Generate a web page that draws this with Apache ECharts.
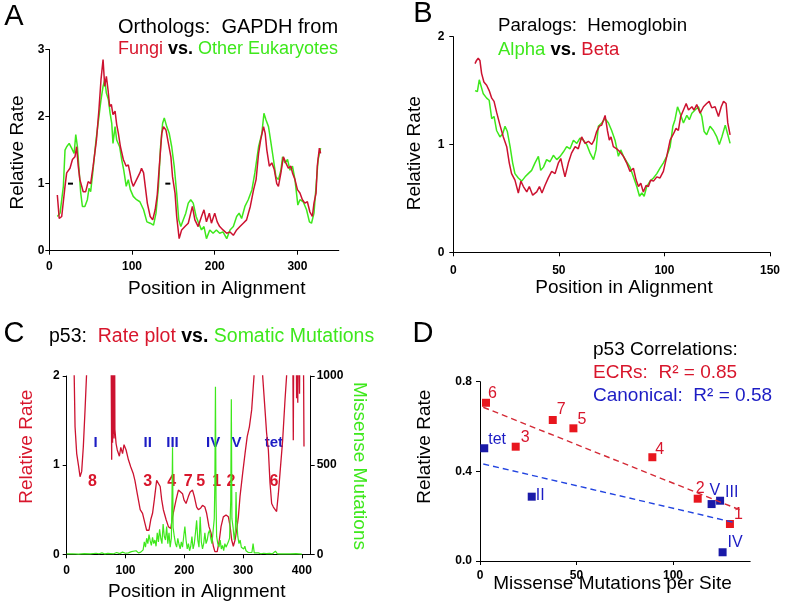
<!DOCTYPE html>
<html><head><meta charset="utf-8">
<script src="https://cdn.jsdelivr.net/npm/echarts@6/dist/echarts.min.js"></script>
<style>html,body{margin:0;padding:0;background:#fff}#c{width:785px;height:607px}</style>
</head><body><div id="c"></div>
<script>
// ---------- Panel A: GAPDH orthologs (position, relative rate) ----------
const aFungi = [[9.7,0.83],[12,0.48],[15,0.51],[19,0.96],[21,1.16],[25,1.23],[28,1.36],[31,1.4],[33,1.55],[35,1.26],[37,1.06],[41,0.88],[44,0.88],[47,1.03],[50,1.0],[53,1.26],[57,1.65],[60,2.1],[62.5,2.55],[65,2.85],[67,2.45],[69,2.6],[71,2.4],[73,2.15],[75,2.18],[77,2.03],[79.5,2.08],[81.5,1.88],[83.5,1.75],[86,1.55],[89.5,1.36],[93,1.26],[95.5,1.28],[97.5,1.16],[99.5,1.03],[101.5,0.96],[105.5,1.06],[109.5,1.16],[111.5,1.23],[114,1.16],[116,0.96],[118.5,0.71],[122,0.51],[125,0.46],[128,0.61],[130.5,0.83],[133,1.26],[136,1.75],[138,1.85],[141,1.8],[144,1.6],[147,1.4],[149,1.1],[152,0.86],[154,0.51],[157,0.18],[160,0.31],[164,0.36],[168,0.41],[171,0.56],[173,0.66],[176,0.46],[180,0.36],[184,0.51],[187,0.61],[190,0.43],[193.5,0.56],[196,0.41],[200,0.56],[203,0.43],[206,0.36],[210,0.31],[214.5,0.26],[218.5,0.28],[222.5,0.23],[226.5,0.31],[230.5,0.36],[234.5,0.41],[238.5,0.46],[243,0.66],[247,0.91],[250,1.06],[253,1.45],[255.5,1.65],[259,1.85],[261,1.75],[263,1.5],[266,1.26],[269,1.31],[272,1.21],[275,1.0],[277,0.96],[280,1.16],[283,1.4],[286,1.31],[289,1.23],[292,1.26],[294,1.16],[297,1.06],[300,0.91],[303,0.86],[306,0.76],[309,0.71],[312,0.73],[315,0.58],[318,0.51],[320,0.71],[322.5,0.86],[324,1.26],[326.5,1.53],[328,1.45]];
const aOther = [[9.7,0.51],[13,0.56],[17,0.96],[19,1.5],[21,1.55],[24,1.6],[27,1.53],[30,1.45],[32,1.73],[34,1.55],[36,1.2],[38,0.86],[40,0.66],[43,0.66],[46,0.76],[48,0.93],[50,0.88],[52.5,1.16],[56.5,1.65],[60,2.0],[62.5,2.25],[65,2.45],[67,2.55],[69,2.35],[71.5,2.25],[73.5,2.05],[75.5,1.9],[77,1.6],[79.5,1.85],[81.5,1.65],[85,1.55],[87.5,1.36],[90,1.2],[93,0.96],[95.5,1.06],[98,0.91],[101.5,0.81],[105.5,0.76],[109.5,0.73],[114,0.61],[118,0.43],[122,0.41],[126,0.38],[129,0.56],[132,0.96],[134.5,1.55],[137,1.9],[139,1.98],[142,1.85],[145,1.75],[148,1.55],[151,1.26],[154,0.86],[156.5,0.46],[159,0.36],[162,0.46],[165,0.56],[168,0.71],[171,0.76],[174,0.71],[177.5,0.51],[180,0.43],[184,0.31],[187,0.36],[190,0.18],[194,0.31],[198,0.26],[202,0.31],[206,0.26],[210,0.28],[214.5,0.18],[218.5,0.31],[222.5,0.36],[226.5,0.51],[229.5,0.56],[232.5,0.48],[236.5,0.66],[240.5,0.76],[245,0.91],[248.5,1.16],[253,1.55],[257,1.75],[259.5,2.05],[262,1.95],[265,1.85],[267.5,1.65],[271,1.36],[274,1.1],[277,1.06],[280,1.2],[282,1.4],[285,1.31],[288,1.36],[291,1.2],[294,1.26],[297,1.06],[300.5,0.68],[303,0.76],[307,0.73],[311,0.61],[314.5,0.43],[317,0.41],[320,0.56],[322.5,0.96],[325,1.36],[328,1.53]];
const aMarks = [[25.6,1.0],[143.3,1.0]];

// ---------- Panel B: hemoglobin paralogs ----------
const bBeta = [[10.3,1.75],[11,1.78],[11.8,1.8],[12.6,1.78],[13.4,1.66],[14.5,1.58],[15.8,1.55],[17,1.5],[18.2,1.43],[19.3,1.4],[20.5,1.3],[22.1,1.18],[23.7,1.07],[25.3,0.98],[26.5,0.83],[27.6,0.73],[29.2,0.67],[30.8,0.55],[32,0.66],[33.2,0.61],[34.8,0.56],[36,0.61],[37.6,0.53],[39.5,0.56],[40.8,0.61],[42,0.55],[43.4,0.62],[45,0.69],[46.6,0.75],[48.2,0.73],[49.8,0.83],[50.9,0.87],[51.8,0.79],[52.9,0.7],[54.5,0.83],[56,0.92],[57.7,0.98],[59.2,0.96],[60.8,1.07],[62.4,1.01],[64,1.03],[65.6,1.0],[66.7,1.04],[67.9,1.12],[69.2,1.17],[70.3,1.18],[71.9,1.27],[73,1.13],[73.9,1.04],[74.7,1.07],[75.8,0.98],[77.4,0.96],[79,0.93],[80.6,0.89],[82.1,0.83],[83.7,0.75],[85.3,0.78],[86.6,0.67],[87.7,0.61],[88.8,0.64],[90,0.56],[91.3,0.62],[92.4,0.61],[93.5,0.67],[94.8,0.66],[96.4,0.7],[97.9,0.69],[99.5,0.75],[101.1,0.89],[102.7,1.04],[104.3,1.1],[105.5,1.15],[106.6,1.13],[107.7,1.26],[109,1.32],[110.3,1.38],[111.4,1.32],[113,1.35],[114,1.32],[115.3,1.37],[116.9,1.29],[118.5,1.35],[120,1.38],[121.2,1.4],[122.4,1.34],[124,1.35],[125.6,1.26],[126.9,1.35],[128,1.4],[129.2,1.38],[130,1.2],[131.1,1.09]];
const bAlpha = [[10.3,1.5],[11.4,1.49],[12.3,1.6],[13.1,1.61],[14.2,1.47],[15.8,1.43],[17,1.41],[18.2,1.24],[19.3,1.26],[20.5,1.13],[22.1,1.07],[23.4,1.1],[24.5,1.17],[25.6,1.12],[26.9,0.98],[28.1,0.83],[29.2,0.73],[30.8,0.69],[32.4,0.66],[34,0.7],[35.5,0.73],[37.1,0.76],[38.7,0.83],[40.3,0.89],[41.4,0.76],[42.7,0.79],[44.2,0.86],[45.8,0.84],[47.4,0.9],[49,0.86],[50.6,0.89],[52.1,0.93],[53.7,0.98],[55.3,0.96],[56.9,1.04],[58.5,1.01],[60,1.06],[61.6,1.04],[63.2,1.0],[64.8,0.92],[66.4,0.86],[67.6,0.95],[68.7,1.17],[70.3,1.2],[71.9,1.24],[73.5,1.2],[75,1.13],[76.6,1.04],[78.2,0.89],[79.3,0.95],[80.6,0.89],[82.1,0.84],[83.7,0.79],[85.3,0.7],[86.9,0.61],[88.2,0.52],[89.3,0.55],[90.4,0.52],[91.6,0.61],[93.2,0.66],[94.8,0.69],[96.4,0.73],[97.9,0.78],[99.5,0.83],[101.1,0.89],[102.7,0.98],[104,1.17],[105,1.23],[106.2,1.35],[107.4,1.29],[109,1.2],[110.6,1.27],[111.8,1.23],[113,1.29],[114.5,1.32],[116.1,1.35],[117.7,1.26],[118.8,1.12],[120,1.09],[121.6,1.17],[123.2,1.13],[124.8,1.07],[126,1.0],[127.2,1.07],[128.8,1.18],[129.9,1.1],[131.1,1.01]];

// ---------- Panel C: p53 rate plot vs somatic mutations ----------
const cRate = [[10,3],[12,2.3],[14.2,1.43],[17,1.13],[20.4,0.98],[22.7,0.87],[25.5,0.93],[28.3,1.21],[31.2,1.62],[34,2.05],[36,3],[75,3],[76.5,1.06],[77.2,3],[78,1.25],[78.6,3],[79.2,1.35],[79.8,3],[80.5,1.3],[81.2,3],[82,1.4],[84,1.24],[86,1.17],[89.6,1.1],[92,1.2],[95,1.13],[97.5,1.23],[101,1.17],[105,1.06],[109,0.98],[113,0.91],[116,0.83],[120,0.68],[125,0.5],[129,0.46],[133,0.35],[136,0.27],[140,0.27],[143,0.39],[146,0.46],[149,0.61],[153,0.83],[156,0.81],[159,0.76],[161.6,0.61],[164.4,0.5],[169,0.39],[173,0.31],[177,0.29],[180,0.42],[182.5,0.5],[186,0.61],[190,0.72],[193,0.74],[197,0.68],[199.5,0.61],[203,0.57],[207,0.65],[210,0.7],[214,0.72],[217,0.65],[221,0.53],[224,0.5],[228,0.52],[231,0.55],[235,0.53],[238,0.46],[242,0.31],[245.5,0.24],[249.5,0.09],[252,0.03],[256,0.03],[259.6,0.16],[262.5,0.31],[266.4,0.42],[271,0.44],[275,0.42],[278,0.31],[280.6,0.16],[283.4,0.09],[286.3,0.16],[289,0.27],[292,0.42],[294.8,0.65],[299.3,0.91],[303.3,1.13],[307,1.32],[310.7,1.43],[314.6,1.62],[318.6,2.0],[320,3],[332,3],[333.3,2.0],[337.3,1.62],[340,1.36],[343,1.17],[345.8,0.8],[348.6,0.57],[351.5,0.53],[354.3,0.55],[357,0.48],[360,0.68],[362.8,0.91],[367.3,1.28],[371.3,1.73],[374,2.0],[376,3],[384,3],[385.4,1.28],[386.5,3],[390,3],[391,1.75],[392,3],[393,1.7],[394,3],[396,1.8],[397,3],[402,3],[403.6,1.21]];
const cMut = [[0,2],[10,3],[20,1],[30,4],[40,2],[50,6],[55,3],[60,8],[65,2],[70,5],[80,3],[85,10],[90,4],[95,12],[100,6],[105,8],[110,15],[113,5],[118,20],[122,8],[126,12],[130,25],[132,70],[134,40],[136,90],[138,60],[140,110],[142,75],[144,50],[146,95],[148,60],[150,80],[152,45],[154,120],[156,70],[158,140],[160,90],[162,60],[164,170],[166,100],[168,80],[170,155],[172,60],[174,120],[176,40],[178,90],[179,300],[180,600],[181,150],[183,100],[185,60],[187,40],[189,90],[191,55],[193,30],[195,70],[197,40],[199,100],[201,155],[203,80],[205,30],[207,60],[209,20],[211,45],[213,100],[215,30],[217,60],[219,120],[221,190],[223,80],[225,40],[227,210],[229,70],[231,30],[233,60],[235,120],[237,60],[239,80],[241,120],[243,135],[245,90],[247,60],[249,130],[251,200],[252,400],[253,940],[254,300],[255,100],[257,60],[259,40],[261,80],[263,30],[265,50],[267,20],[269,60],[271,40],[273,30],[275,70],[277,90],[279,300],[280,870],[281,200],[283,150],[285,80],[287,140],[288,350],[289,200],[291,100],[293,60],[295,80],[297,40],[299,50],[301,30],[303,45],[305,20],[307,25],[309,10],[312,15],[315,10],[317,60],[319,8],[322,5],[326,8],[330,3],[335,6],[340,4],[345,5],[350,3],[355,18],[358,4],[362,2],[370,3],[380,2],[390,4],[400,1]];
const cCanonNames = ['I','II','III','IV','V','tet'];
const cCanonX = [49,137.7,180,249,289,352.5];
const cCanonY = 1.245;
const cEcrNames = ['8','3','4','7','5','1','2','6'];
const cEcrX = [44,137.8,178.6,206.8,227.9,255,279.4,352.5];
const cEcrY = 0.81;

// ---------- Panel D: correlations ----------
const dEcrNames = ['6','7','5','3','4','2','1'];
const dEcrX = [3.1,37.7,48.4,18.5,89.3,112.8,129.5];
const dEcrY = [0.706,0.629,0.592,0.51,0.463,0.278,0.165];
const dCanNames = ['tet','II','V','III','IV'];
const dCanX = [2.2,26.8,120,124.4,125.7];
const dCanY = [0.503,0.287,0.254,0.269,0.039];
const dEcrFit = [[1.7,0.686],[134.7,0.228]];
const dCanFit = [[1.7,0.433],[132.1,0.171]];

// ---------- styling ----------
const FF = '"Liberation Sans", Arial, Helvetica, sans-serif';
const RED = '#cc1230', GREEN = '#3ee81c', BLUE = '#1c1cc4', TRED = '#d8162c';
const SQRED = '#e8161e', SQBLUE = '#1a1aa8';

function lab(margin, extra) {
  return Object.assign({color: '#000', fontSize: 12, fontWeight: 'bold', fontFamily: FF, margin: margin}, extra || {});
}
function axis(extra, label) {
  return Object.assign({
    type: 'value',
    axisLine: {show: true, onZero: false, lineStyle: {color: '#000', width: 1}},
    axisTick: {show: true, length: 4, lineStyle: {color: '#000', width: 1}},
    axisLabel: label,
    splitLine: {show: false}
  }, extra);
}
function T(x, y, text, size, color, rot, align, rich) {
  const s = {text: text, fill: color || '#000', fontSize: size, fontFamily: FF,
             align: align || 'left', verticalAlign: 'middle'};
  if (rich) s.rich = rich;
  return {type: 'text', x: x, y: y, rotation: rot || 0, style: s, z: 100};
}
function mkRich(size) {
  const r = c => ({fill: c, fontSize: size, fontFamily: FF});
  return {r: r(TRED), g: r(GREEN), k: {fill: '#000', fontSize: size, fontFamily: FF, fontWeight: 'bold'}};
}
const H = Math.PI / 2;

const labelOffsetsD = {'6': [-2, -9], '7': [0, -10], '2': [-6, -10], V: [-6, -13], II: [0, -1], IV: [1, -10], '4': [-1, -8], '3': [1, -9], III: [1, -8]};
function dItems(names, xs, ys) {
  return names.map((n, i) => ({
    name: n, value: [xs[i], ys[i]],
    label: {offset: labelOffsetsD[n] || [0, -9]}
  }));
}

const option = {
  animation: false,
  backgroundColor: '#fff',
  grid: [
    {left: 49.3, top: 49.5, width: 289.5, height: 201.2, outerBoundsMode: 'none'},
    {left: 453.3, top: 36.7, width: 316.7, height: 215.6, outerBoundsMode: 'none'},
    {left: 66.7, top: 376, width: 244, height: 178.3, outerBoundsMode: 'none'},
    {left: 480, top: 381.7, width: 270.2, height: 179.3, outerBoundsMode: 'none'}
  ],
  xAxis: [
    axis({gridIndex: 0, min: 0, max: 350, interval: 100}, lab(10, {showMaxLabel: false, formatter: v => v % 100 === 0 ? String(v) : ''})),
    axis({gridIndex: 1, min: 0, max: 150, interval: 50}, lab(12, {formatter: v => String(v)})),
    axis({gridIndex: 2, min: 0, max: 415, interval: 100}, lab(10, {showMaxLabel: false, formatter: v => v % 100 === 0 ? String(v) : ''})),
    axis({gridIndex: 3, min: 0, max: 140, interval: 50}, lab(9, {showMaxLabel: false, formatter: v => v % 50 === 0 ? String(v) : ''}))
  ],
  yAxis: [
    axis({gridIndex: 0, min: 0, max: 3, interval: 1}, lab(5, {formatter: v => String(v)})),
    axis({gridIndex: 1, min: 0, max: 2, interval: 1}, lab(9, {formatter: v => String(v)})),
    axis({gridIndex: 2, min: 0, max: 2, interval: 1}, lab(7, {formatter: v => String(v)})),
    axis({gridIndex: 2, min: 0, max: 1000, interval: 500, position: 'right'}, lab(6, {formatter: v => String(v)})),
    axis({gridIndex: 3, min: 0, max: 0.8, interval: 0.4}, lab(8, {formatter: v => v.toFixed(1)}))
  ],
  series: [
    {type: 'line', xAxisIndex: 0, yAxisIndex: 0, data: aOther, showSymbol: false, lineStyle: {color: GREEN, width: 1.5}, clip: true},
    {type: 'line', xAxisIndex: 0, yAxisIndex: 0, data: aFungi, showSymbol: false, lineStyle: {color: RED, width: 1.5}, clip: true},
    {type: 'scatter', xAxisIndex: 0, yAxisIndex: 0, data: aMarks, symbol: 'rect', symbolSize: [5, 2], itemStyle: {color: '#000', opacity: 1}},

    {type: 'line', xAxisIndex: 1, yAxisIndex: 1, data: bAlpha, showSymbol: false, lineStyle: {color: GREEN, width: 1.5}, clip: true},
    {type: 'line', xAxisIndex: 1, yAxisIndex: 1, data: bBeta, showSymbol: false, lineStyle: {color: RED, width: 1.5}, clip: true},

    {type: 'line', xAxisIndex: 2, yAxisIndex: 2, data: cRate, showSymbol: false, lineStyle: {color: RED, width: 1.3}, clip: true},
    {type: 'line', xAxisIndex: 2, yAxisIndex: 3, data: cMut, showSymbol: false, lineStyle: {color: GREEN, width: 1.2}, clip: true},
    {type: 'scatter', xAxisIndex: 2, yAxisIndex: 2, symbolSize: 1, itemStyle: {color: 'transparent'},
     data: cCanonNames.map((n, i) => ({name: n, value: [cCanonX[i], cCanonY]})),
     label: {show: true, position: 'inside', formatter: '{b}', color: BLUE, fontSize: 15, fontWeight: 'bold', fontFamily: FF, opacity: 1}},
    {type: 'scatter', xAxisIndex: 2, yAxisIndex: 2, symbolSize: 1, itemStyle: {color: 'transparent'},
     data: cEcrNames.map((n, i) => ({name: n, value: [cEcrX[i], cEcrY]})),
     label: {show: true, position: 'inside', formatter: '{b}', color: TRED, fontSize: 16, fontWeight: 'bold', fontFamily: FF, opacity: 1}},

    {type: 'line', xAxisIndex: 3, yAxisIndex: 4, data: dEcrFit, showSymbol: false, lineStyle: {color: '#d42a36', width: 1.4, type: [6, 4]}},
    {type: 'line', xAxisIndex: 3, yAxisIndex: 4, data: dCanFit, showSymbol: false, lineStyle: {color: '#2244e0', width: 1.4, type: [6, 4]}},
    {type: 'scatter', xAxisIndex: 3, yAxisIndex: 4, symbol: 'rect', symbolSize: 8, itemStyle: {color: SQRED, opacity: 1},
     data: dItems(dEcrNames, dEcrX, dEcrY),
     label: {show: true, position: 'right', distance: 0, formatter: '{b}', color: TRED, fontSize: 16, fontFamily: FF, opacity: 1}},
    {type: 'scatter', xAxisIndex: 3, yAxisIndex: 4, symbol: 'rect', symbolSize: 8, itemStyle: {color: SQBLUE, opacity: 1},
     data: dItems(dCanNames, dCanX, dCanY),
     label: {show: true, position: 'right', distance: 0, formatter: '{b}', color: BLUE, fontSize: 16, fontFamily: FF, opacity: 1}}
  ],
  graphic: {elements: [
    T(14, 17, 'A', 29, '#000', 0, 'center'),
    T(423, 14, 'B', 29, '#000', 0, 'center'),
    T(14, 334, 'C', 29, '#000', 0, 'center'),
    T(423, 334, 'D', 29, '#000', 0, 'center'),

    T(118, 27, 'Orthologs:  GAPDH from', 20),
    T(118, 49, '{r|Fungi} {k|vs.} {g|Other Eukaryotes}', 18, '#000', 0, 'left', mkRich(18)),
    T(498, 26, 'Paralogs:  Hemoglobin', 18.7),
    T(498, 50, '{g|Alpha} {k|vs.} {r|Beta}', 18.5, '#000', 0, 'left', mkRich(18.5)),
    T(49, 337, 'p53:  {r|Rate plot} {k|vs.} {g|Somatic Mutations}', 19.5, '#000', 0, 'left', mkRich(19.5)),
    T(593, 350, 'p53 Correlations:', 19),
    T(593, 373, 'ECRs:  R² = 0.85', 19, TRED),
    T(593, 396, 'Canonical:  R² = 0.58', 19, BLUE),

    T(17.5, 152.5, 'Relative Rate', 19, '#000', H, 'center'),
    T(216.7, 289, 'Position in Alignment', 19, '#000', 0, 'center'),
    T(415, 153.3, 'Relative Rate', 19, '#000', H, 'center'),
    T(624, 288, 'Position in Alignment', 19, '#000', 0, 'center'),
    T(26.7, 446.7, 'Relative Rate', 19, TRED, H, 'center'),
    T(359, 466, 'Missense Mutations', 19, GREEN, -H, 'center'),
    T(196.7, 592, 'Position in Alignment', 19, '#000', 0, 'center'),
    T(425, 446.7, 'Relative Rate', 19, '#000', H, 'center'),
    T(612.5, 584, 'Missense Mutations per Site', 19, '#000', 0, 'center')
  ]}
};

const chart = echarts.init(document.getElementById('c'), null, {renderer: 'canvas'});
chart.setOption(option);
</script></body></html>
